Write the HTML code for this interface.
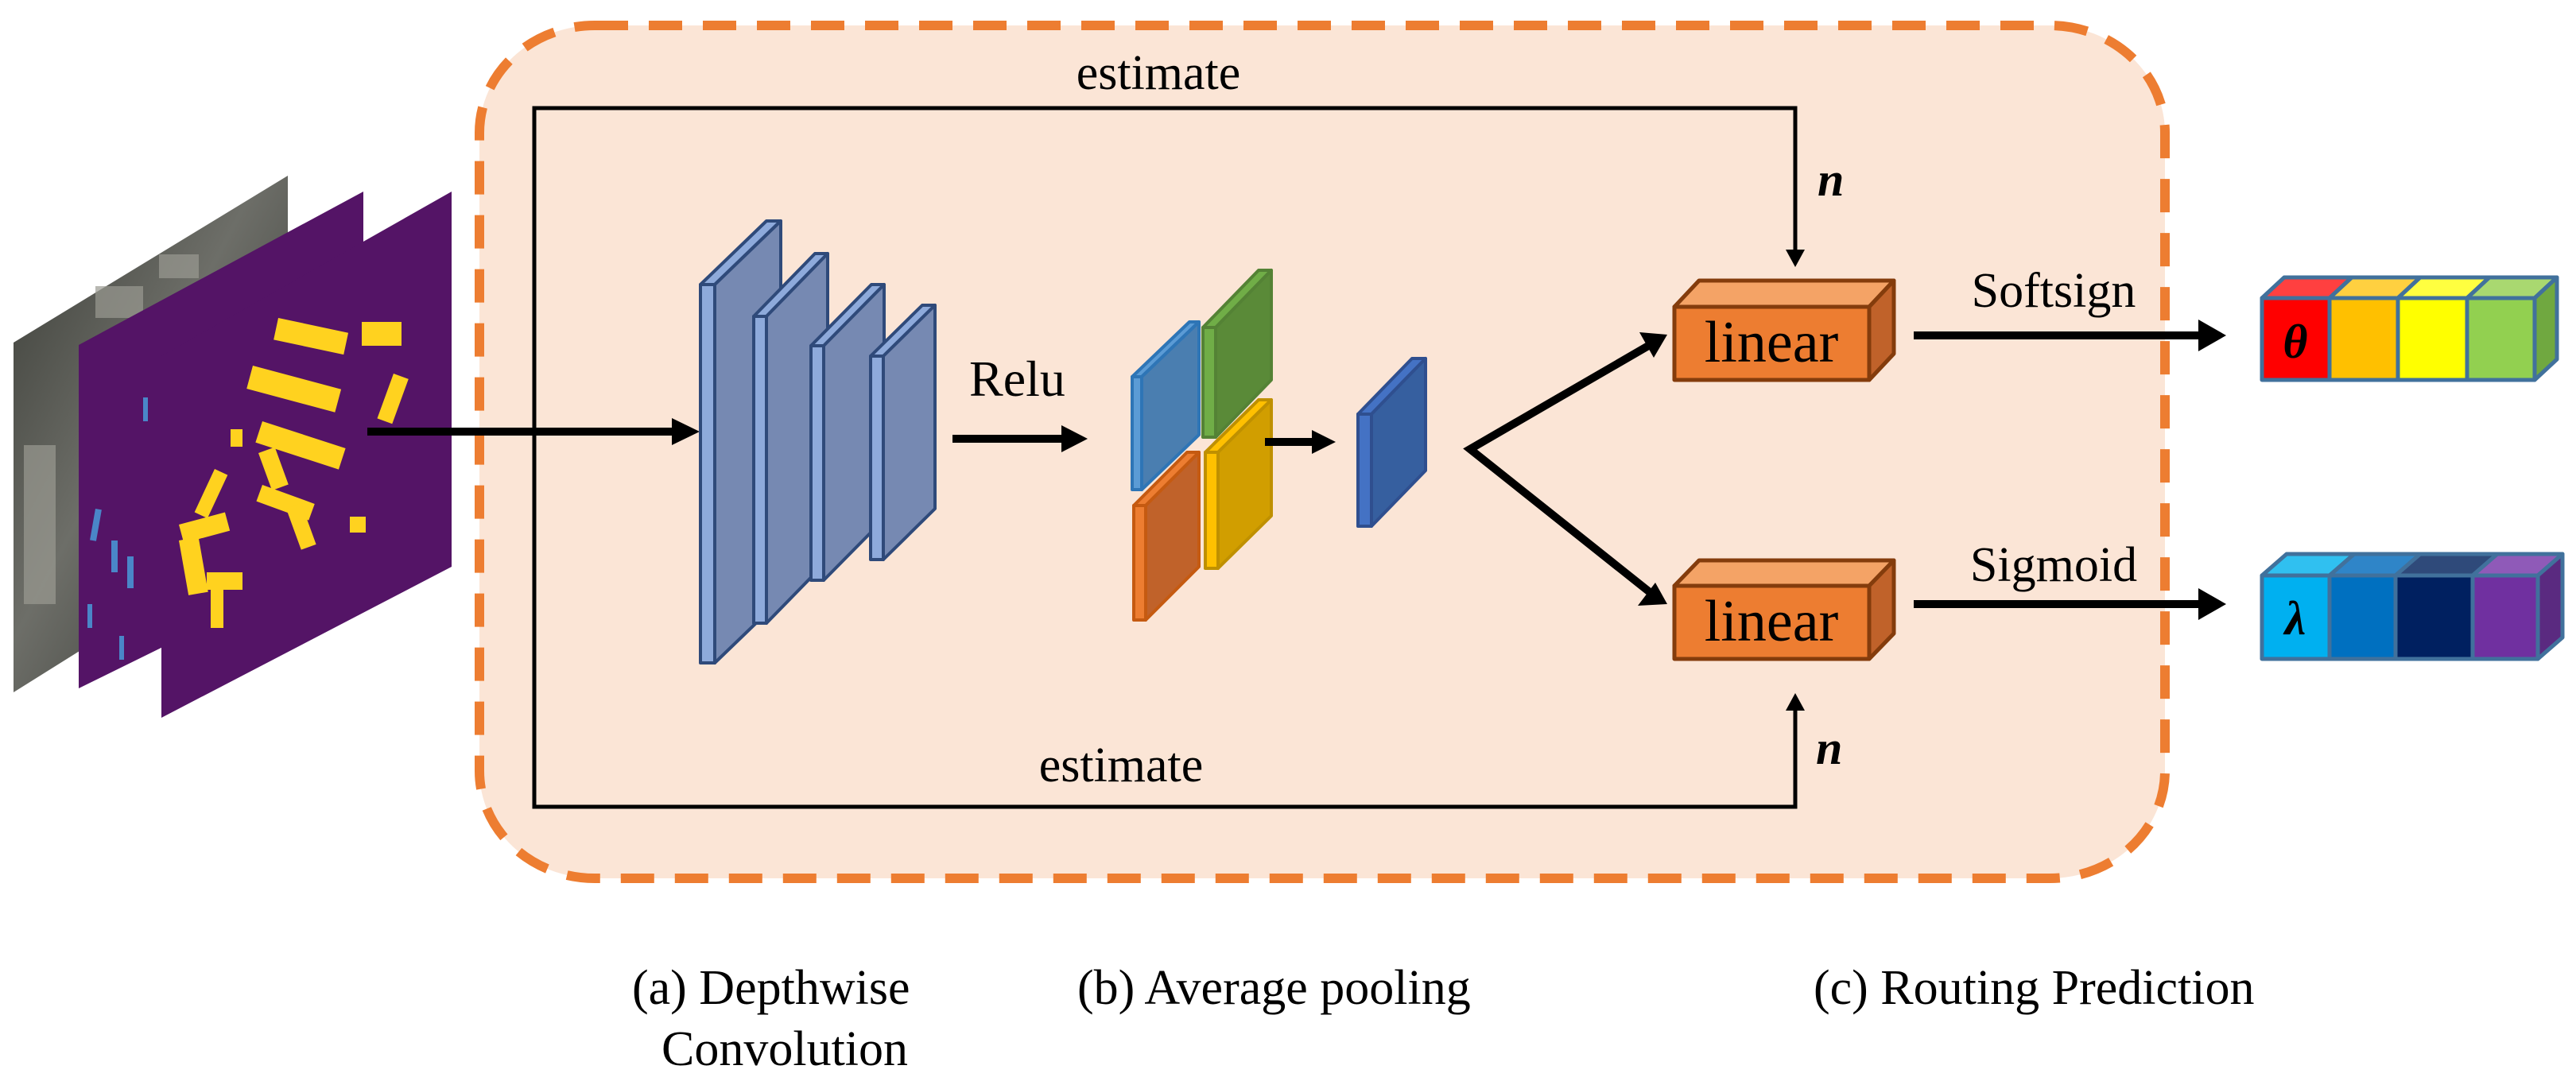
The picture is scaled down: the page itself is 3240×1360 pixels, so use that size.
<!DOCTYPE html>
<html><head><meta charset="utf-8"><style>html,body{margin:0;padding:0;background:#fff}svg{display:block}svg text{font-family:"Liberation Serif","DejaVu Serif",serif}</style></head>
<body>
<svg width="3240" height="1360" viewBox="0 0 3240 1360" xmlns="http://www.w3.org/2000/svg" style="font-family:'Liberation Serif',serif">
<defs>
<linearGradient id="ph" x1="0" y1="0" x2="1" y2="1"><stop offset="0" stop-color="#3a3c36"/><stop offset="0.45" stop-color="#6d6e68"/><stop offset="1" stop-color="#2a2c28"/></linearGradient>
</defs>
<rect x="603" y="32" width="2120" height="1073" rx="145" ry="135" fill="#fbe5d6" stroke="#ed7d31" stroke-width="12" stroke-dasharray="42,26"/>
<polygon points="17,431 362,221 362,655 17,871" fill="url(#ph)"/>
<g fill="#9a9a92" opacity="0.7"><rect x="30" y="560" width="40" height="200"/><rect x="120" y="360" width="60" height="40"/><rect x="200" y="320" width="50" height="30"/></g>
<polygon points="99,434 457,241 457,690 99,866" fill="#541466"/>
<g fill="#4a86c8">
<rect x="120" y="640" width="8" height="40" transform="rotate(10 120 640)"/><rect x="140" y="680" width="8" height="40"/><rect x="160" y="700" width="8" height="40"/><rect x="180" y="500" width="6" height="30"/><rect x="240" y="430" width="6" height="28"/><rect x="270" y="425" width="6" height="28"/><rect x="110" y="760" width="6" height="30"/><rect x="150" y="800" width="6" height="30"/>
</g>
<polygon points="203,448 568,241 568,713 203,903" fill="#541466"/>
<g fill="#ffd21f">
<rect x="350" y="400" width="90" height="28" transform="rotate(12 350 400)"/><rect x="455" y="405" width="50" height="30"/><rect x="318" y="460" width="115" height="30" transform="rotate(15 318 460)"/><rect x="495" y="470" width="20" height="60" transform="rotate(20 495 470)"/><rect x="330" y="530" width="110" height="28" transform="rotate(18 330 530)"/><rect x="325" y="570" width="22" height="50" transform="rotate(-20 325 570)"/><rect x="330" y="610" width="70" height="22" transform="rotate(20 330 610)"/><rect x="270" y="590" width="18" height="60" transform="rotate(25 270 590)"/><rect x="225" y="660" width="60" height="24" transform="rotate(-15 225 660)"/><rect x="225" y="680" width="25" height="70" transform="rotate(-10 225 680)"/><rect x="260" y="720" width="45" height="22"/><rect x="265" y="730" width="16" height="60"/><rect x="360" y="640" width="20" height="55" transform="rotate(-20 360 640)"/><rect x="440" y="650" width="20" height="20"/><rect x="290" y="540" width="15" height="22"/>
</g>
<polyline points="672,543 672,136 2258,136 2258,320" fill="none" stroke="#000" stroke-width="5"/>
<polygon points="2246,314 2270,314 2258,336" fill="#000"/>
<polyline points="672,543 672,1015 2258,1015 2258,890" fill="none" stroke="#000" stroke-width="5"/>
<polygon points="2246,894 2270,894 2258,872" fill="#000"/>
<text x="1457" y="112" font-size="62" text-anchor="middle">estimate</text>
<text x="1410" y="983" font-size="62" text-anchor="middle">estimate</text>
<text x="2286" y="246" font-size="60" font-weight="bold" font-style="italic">n</text>
<text x="2284" y="961" font-size="60" font-weight="bold" font-style="italic">n</text>
<line x1="462" y1="543" x2="850" y2="543" stroke="#000" stroke-width="10"/>
<polygon points="845,526 880,543 845,560" fill="#000"/>
<g stroke="#2f4a7a" stroke-width="4" stroke-linejoin="round">
<polygon points="881,358 964,278 982,278 899,358" fill="#8eaadb"/><polygon points="899,358 982,278 982,754 899,834" fill="#7689b2"/><rect x="881" y="358" width="18" height="476" fill="#8eaadb"/>
<polygon points="948,398 1025,319 1041,319 964,398" fill="#8eaadb"/><polygon points="964,398 1041,319 1041,705 964,784" fill="#7689b2"/><rect x="948" y="398" width="16" height="386" fill="#8eaadb"/>
<polygon points="1020,435 1096,358 1112,358 1036,435" fill="#8eaadb"/><polygon points="1036,435 1112,358 1112,653 1036,730" fill="#7689b2"/><rect x="1020" y="435" width="16" height="295" fill="#8eaadb"/>
<polygon points="1095,448 1160,384 1176,384 1111,448" fill="#8eaadb"/><polygon points="1111,448 1176,384 1176,640 1111,704" fill="#7689b2"/><rect x="1095" y="448" width="16" height="256" fill="#8eaadb"/>
</g>
<text x="1219" y="498" font-size="64">Relu</text>
<line x1="1198" y1="552" x2="1340" y2="552" stroke="#000" stroke-width="10"/>
<polygon points="1335,535 1368,552 1335,569" fill="#000"/>
<g stroke-width="4" stroke-linejoin="round">
<g stroke="#2e75b6"><polygon points="1424,474 1496,405 1508,405 1436,474" fill="#5b9bd5"/><polygon points="1436,474 1508,405 1508,547 1436,616" fill="#4a7eb0"/><rect x="1424" y="474" width="12" height="142" fill="#5b9bd5"/></g>
<g stroke="#548235"><polygon points="1513,412 1583,340 1599,340 1529,412" fill="#70ad47"/><polygon points="1529,412 1599,340 1599,478 1529,550" fill="#5a8a38"/><rect x="1513" y="412" width="16" height="138" fill="#70ad47"/></g>
<g stroke="#c55a11"><polygon points="1426,636 1493,569 1508,569 1441,636" fill="#ed7d31"/><polygon points="1441,636 1508,569 1508,713 1441,780" fill="#c0622a"/><rect x="1426" y="636" width="15" height="144" fill="#ed7d31"/></g>
<g stroke="#bf9000"><polygon points="1516,569 1583,503 1599,503 1532,569" fill="#ffc000"/><polygon points="1532,569 1599,503 1599,649 1532,715" fill="#d19e00"/><rect x="1516" y="569" width="16" height="146" fill="#ffc000"/></g>
</g>
<line x1="1591" y1="556" x2="1655" y2="556" stroke="#000" stroke-width="10"/>
<polygon points="1650,541 1680,556 1650,571" fill="#000"/>
<g stroke="#2f4f8f" stroke-width="4" stroke-linejoin="round"><polygon points="1708,521 1776,451 1793,451 1725,521" fill="#4472c4"/><polygon points="1725,521 1793,451 1793,592 1725,662" fill="#365f9f"/><rect x="1708" y="521" width="17" height="141" fill="#4472c4"/></g>
<polyline points="2075,434 1849,565 2075,745" fill="none" stroke="#000" stroke-width="10" stroke-linejoin="miter"/>
<polygon points="2097,421 2062,418 2080,450" fill="#000"/>
<polygon points="2097,760 2060,762 2082,733" fill="#000"/>
<g stroke="#843c0c" stroke-width="5" stroke-linejoin="round">
<polygon points="2106,386 2137,353 2382,353 2351,386" fill="#f4a366"/><polygon points="2351,386 2382,353 2382,445 2351,478" fill="#c0622a"/><rect x="2106" y="386" width="245" height="92" fill="#ed7d31"/>
<polygon points="2106,737 2137,705 2382,705 2351,737" fill="#f4a366"/><polygon points="2351,737 2382,705 2382,797 2351,829" fill="#c0622a"/><rect x="2106" y="737" width="245" height="92" fill="#ed7d31"/>
</g>
<text x="2228" y="455" font-size="74" text-anchor="middle">linear</text>
<text x="2228" y="806" font-size="74" text-anchor="middle">linear</text>
<text x="2583" y="386" font-size="62" text-anchor="middle">Softsign</text>
<line x1="2407" y1="422" x2="2770" y2="422" stroke="#000" stroke-width="10"/>
<polygon points="2765,402 2800,422 2765,442" fill="#000"/>
<text x="2583" y="731" font-size="62" text-anchor="middle">Sigmoid</text>
<line x1="2407" y1="760" x2="2770" y2="760" stroke="#000" stroke-width="10"/>
<polygon points="2765,740 2800,760 2765,780" fill="#000"/>
<g stroke="#41719c" stroke-width="5" stroke-linejoin="round">
<polygon points="2845,375 2873,349 2958,349 2930,375" fill="#ff4040"/><polygon points="2930,375 2958,349 3044,349 3016,375" fill="#ffd040"/><polygon points="3016,375 3044,349 3131,349 3103,375" fill="#ffff40"/><polygon points="3103,375 3131,349 3216,349 3188,375" fill="#a9d870"/>
<polygon points="3188,375 3216,349 3216,452 3188,478" fill="#70a840"/>
<rect x="2845" y="375" width="85" height="103" fill="#ff0000"/><rect x="2930" y="375" width="86" height="103" fill="#ffc000"/><rect x="3016" y="375" width="87" height="103" fill="#ffff00"/><rect x="3103" y="375" width="85" height="103" fill="#92d050"/>
<polygon points="2845,724 2876,697 2961,697 2930,724" fill="#30c0f0"/><polygon points="2930,724 2961,697 3044,697 3013,724" fill="#2f85c8"/><polygon points="3013,724 3044,697 3141,697 3110,724" fill="#2f4a7a"/><polygon points="3110,724 3141,697 3223,697 3192,724" fill="#8f5ab8"/>
<polygon points="3192,724 3223,697 3223,802 3192,829" fill="#5a2a80"/>
<rect x="2845" y="724" width="85" height="105" fill="#00b0f0"/><rect x="2930" y="724" width="83" height="105" fill="#0070c0"/><rect x="3013" y="724" width="97" height="105" fill="#002060"/><rect x="3110" y="724" width="82" height="105" fill="#7030a0"/>
</g>
<text x="2887" y="450" font-size="60" font-weight="bold" font-style="italic" text-anchor="middle">θ</text>
<text x="2887" y="798" font-size="60" font-weight="bold" font-style="italic" text-anchor="middle">λ</text>
<text x="795" y="1263" font-size="62">(a) Depthwise</text>
<text x="987" y="1340" font-size="62" text-anchor="middle">Convolution</text>
<text x="1355" y="1263" font-size="62">(b) Average pooling</text>
<text x="2281" y="1263" font-size="62">(c) Routing Prediction</text>
</svg>
</body></html>
